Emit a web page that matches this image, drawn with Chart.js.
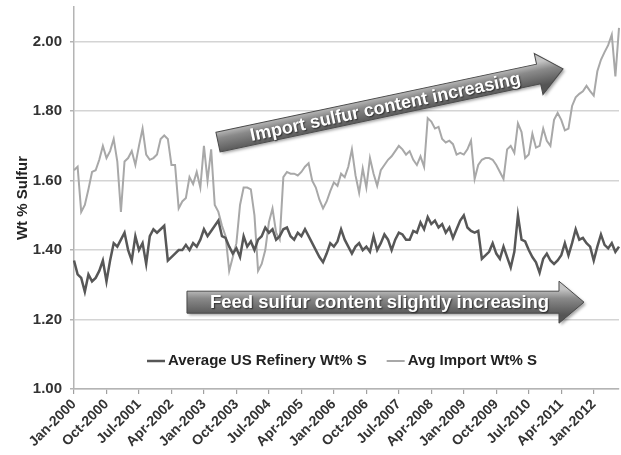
<!DOCTYPE html>
<html>
<head>
<meta charset="utf-8">
<script src="https://cdn.jsdelivr.net/npm/chart.js@4.4.1/dist/chart.umd.min.js"></script>
<style>
  html, body { margin: 0; padding: 0; background: #fff; }
  #wrap { width: 621px; height: 455px; }
</style>
</head>
<body>
<div id="wrap"><canvas id="sulfurChart" width="621" height="455"></canvas></div>
<script>
// monthly data, Jan-2000 .. Aug-2012
const monthNames = ["Jan","Feb","Mar","Apr","May","Jun","Jul","Aug","Sep","Oct","Nov","Dec"];

const refineryValues = [
  1.37,1.33,1.32,1.28,1.33,1.31,1.32,1.34,1.37,1.31,1.37,1.42,
  1.41,1.43,1.45,1.40,1.37,1.44,1.40,1.42,1.36,1.44,1.46,1.45,
  1.46,1.47,1.37,1.38,1.39,1.40,1.40,1.415,1.40,1.42,1.41,1.43,
  1.46,1.44,1.455,1.47,1.485,1.44,1.435,1.41,1.39,1.405,1.38,1.44,
  1.41,1.425,1.40,1.43,1.44,1.465,1.45,1.46,1.43,1.44,1.46,1.465,
  1.44,1.43,1.45,1.44,1.46,1.44,1.42,1.40,1.38,1.365,1.39,1.42,
  1.41,1.425,1.46,1.43,1.41,1.39,1.41,1.42,1.40,1.41,1.395,1.44,
  1.40,1.42,1.445,1.43,1.40,1.43,1.45,1.445,1.43,1.43,1.455,1.45,
  1.48,1.46,1.495,1.475,1.485,1.465,1.475,1.45,1.465,1.435,1.46,1.485,
  1.50,1.465,1.455,1.45,1.455,1.375,1.385,1.395,1.42,1.39,1.375,1.41,
  1.38,1.35,1.395,1.50,1.43,1.425,1.40,1.38,1.365,1.335,1.375,1.39,
  1.37,1.36,1.37,1.385,1.42,1.385,1.42,1.46,1.43,1.435,1.42,1.41,
  1.37,1.41,1.445,1.415,1.405,1.42,1.395,1.41
];

const importValues = [
  1.63,1.64,1.51,1.53,1.575,1.625,1.63,1.66,1.70,1.665,1.685,1.72,
  1.655,1.51,1.655,1.665,1.685,1.645,1.70,1.75,1.675,1.66,1.665,1.675,
  1.72,1.73,1.72,1.645,1.645,1.52,1.54,1.55,1.61,1.59,1.625,1.58,
  1.70,1.60,1.69,1.53,1.51,1.47,1.44,1.34,1.38,1.42,1.53,1.58,
  1.58,1.575,1.50,1.34,1.36,1.40,1.48,1.52,1.45,1.43,1.61,1.625,
  1.62,1.62,1.615,1.625,1.64,1.65,1.60,1.58,1.545,1.52,1.54,1.57,
  1.595,1.585,1.62,1.61,1.64,1.69,1.615,1.565,1.635,1.58,1.665,1.62,
  1.585,1.63,1.645,1.66,1.67,1.685,1.70,1.69,1.675,1.685,1.66,1.645,
  1.67,1.64,1.78,1.77,1.75,1.755,1.72,1.71,1.715,1.705,1.675,1.68,
  1.675,1.69,1.715,1.605,1.645,1.66,1.665,1.665,1.66,1.645,1.625,1.605,
  1.69,1.70,1.68,1.765,1.74,1.665,1.675,1.735,1.695,1.70,1.75,1.715,
  1.70,1.775,1.795,1.775,1.745,1.75,1.815,1.84,1.85,1.857,1.873,1.858,
  1.845,1.915,1.948,1.97,1.99,2.02,1.90,2.04
];

const tickLabels = ["Jan-2000","Oct-2000","Jul-2001","Apr-2002","Jan-2003","Oct-2003",
  "Jul-2004","Apr-2005","Jan-2006","Oct-2006","Jul-2007","Apr-2008","Jan-2009",
  "Oct-2009","Jul-2010","Apr-2011","Jan-2012"];
const tickEvery = 9;

const seriesNames = ["Average US Refinery Wt% S", "Avg Import Wt% S"];
const seriesColors = ["#575757", "#a8a8a8"];

const months = refineryValues.map((v, i) => monthNames[i % 12] + "-" + (2000 + Math.floor(i / 12)));

// arrow annotations, given as [month index, value]
const arrowNotes = [
  { text: "Import sulfur content increasing", from: [39.9, 1.711], to: [135.5, 1.922], half: 10, fontSize: 18 },
  { text: "Feed sulfur content slightly increasing", from: [31.3, 1.25], to: [141.3, 1.25], half: 11, fontSize: 18.5 }
];

const FONT = "'Liberation Sans', Arial, sans-serif";
Chart.defaults.font.family = FONT;

function drawArrow(ctx, x1, y1, x2, y2, note) {
  const ang = Math.atan2(y2 - y1, x2 - x1);
  const len = Math.hypot(x2 - x1, y2 - y1);
  const half = note.half, headHalf = 21, headLen = 25;
  ctx.save();
  ctx.translate(x1, y1);
  ctx.rotate(ang);
  ctx.beginPath();
  ctx.moveTo(0, -half);
  ctx.lineTo(len - headLen, -half);
  ctx.lineTo(len - headLen, -headHalf);
  ctx.lineTo(len, 0);
  ctx.lineTo(len - headLen, headHalf);
  ctx.lineTo(len - headLen, half);
  ctx.lineTo(0, half);
  ctx.closePath();
  const g = ctx.createLinearGradient(0, -half - 2, 0, half + 2);
  g.addColorStop(0, "#c4c4c4");
  g.addColorStop(0.35, "#8a8a8a");
  g.addColorStop(1, "#555");
  ctx.shadowColor = "rgba(0,0,0,0.35)";
  ctx.shadowBlur = 3;
  ctx.shadowOffsetX = 2;
  ctx.shadowOffsetY = 2;
  ctx.fillStyle = g;
  ctx.fill();
  ctx.shadowColor = "transparent";
  ctx.strokeStyle = "#4a4a4a";
  ctx.lineWidth = 1;
  ctx.stroke();

  ctx.font = "bold " + note.fontSize + "px " + FONT;
  ctx.fillStyle = "#fff";
  ctx.textAlign = "center";
  ctx.textBaseline = "middle";
  ctx.shadowColor = "rgba(0,0,0,0.6)";
  ctx.shadowBlur = 1.5;
  ctx.shadowOffsetX = 1;
  ctx.shadowOffsetY = 1;
  ctx.fillText(note.text, len * 0.485, 1);
  ctx.restore();
}

const extrasPlugin = {
  id: "extras",
  afterDatasetsDraw(chart) {
    const ctx = chart.ctx;
    const xs = chart.scales.x, ys = chart.scales.y;
    arrowNotes.forEach(n => {
      drawArrow(ctx,
        xs.getPixelForValue(n.from[0]), ys.getPixelForValue(n.from[1]),
        xs.getPixelForValue(n.to[0]), ys.getPixelForValue(n.to[1]), n);
    });

    // legend inside the plot area
    const area = chart.chartArea;
    ctx.save();
    ctx.font = "bold 15px " + FONT;
    ctx.textBaseline = "middle";
    ctx.textAlign = "left";
    ctx.fillStyle = "#222";
    let x = area.left + 73;
    const y = area.bottom - 28;
    seriesNames.forEach((name, i) => {
      ctx.strokeStyle = seriesColors[i];
      ctx.lineWidth = i === 0 ? 2.5 : 2;
      ctx.beginPath();
      ctx.moveTo(x, y);
      ctx.lineTo(x + 18, y);
      ctx.stroke();
      x += 21;
      ctx.fillText(name, x, y);
      x += ctx.measureText(name).width + 20;
    });
    ctx.restore();
  }
};

const ctx = document.getElementById("sulfurChart").getContext("2d");
new Chart(ctx, {
  type: "line",
  data: {
    labels: months,
    datasets: [
      { label: seriesNames[0], data: refineryValues, borderColor: seriesColors[0], borderWidth: 2.5,
        pointRadius: 0, tension: 0, fill: false },
      { label: seriesNames[1], data: importValues, borderColor: seriesColors[1], borderWidth: 2,
        pointRadius: 0, tension: 0, fill: false }
    ]
  },
  options: {
    responsive: false,
    animation: false,
    layout: { padding: { top: 7, right: 2, left: 0, bottom: 0 } },
    plugins: { legend: { display: false }, tooltip: { enabled: false } },
    scales: {
      x: {
        offset: false,
        grid: {
          drawOnChartArea: false,
          tickLength: 5,
          lineWidth: 1.2,
          color: c => (c.index % tickEvery === 0 ? "#a0a0a0" : "rgba(0,0,0,0)")
        },
        border: { color: "#b4b4b4", width: 1.5 },
        ticks: {
          autoSkip: false,
          maxRotation: 45,
          minRotation: 45,
          padding: 2,
          color: "#333",
          font: { size: 14, weight: "bold" },
          callback: (v, i) => (i % tickEvery === 0 ? tickLabels[i / tickEvery] : "")
        },
        afterFit: s => {
          s.height = 66;
          s.paddingLeft = 0;
          s.paddingRight = 0;
        }
      },
      y: {
        min: 1,
        max: 2.1,
        ticks: {
          stepSize: 0.2,
          includeBounds: false,
          padding: 8,
          color: "#333",
          font: { size: 15, weight: "bold" },
          callback: v => v.toFixed(2)
        },
        grid: { color: "#d4d4d4", lineWidth: 1.5, tickLength: 4, tickColor: "#b4b4b4" },
        border: { color: "#b4b4b4", width: 1.5 },
        title: {
          display: true,
          text: "Wt % Sulfur",
          color: "#222",
          font: { size: 15, weight: "bold" },
          padding: { top: 14, bottom: 0 }
        },
        afterFit: s => {
          s.width = 74;
          s.paddingTop = 0;
          s.paddingBottom = 0;
        }
      }
    }
  },
  plugins: [extrasPlugin]
});
</script>
</body>
</html>
